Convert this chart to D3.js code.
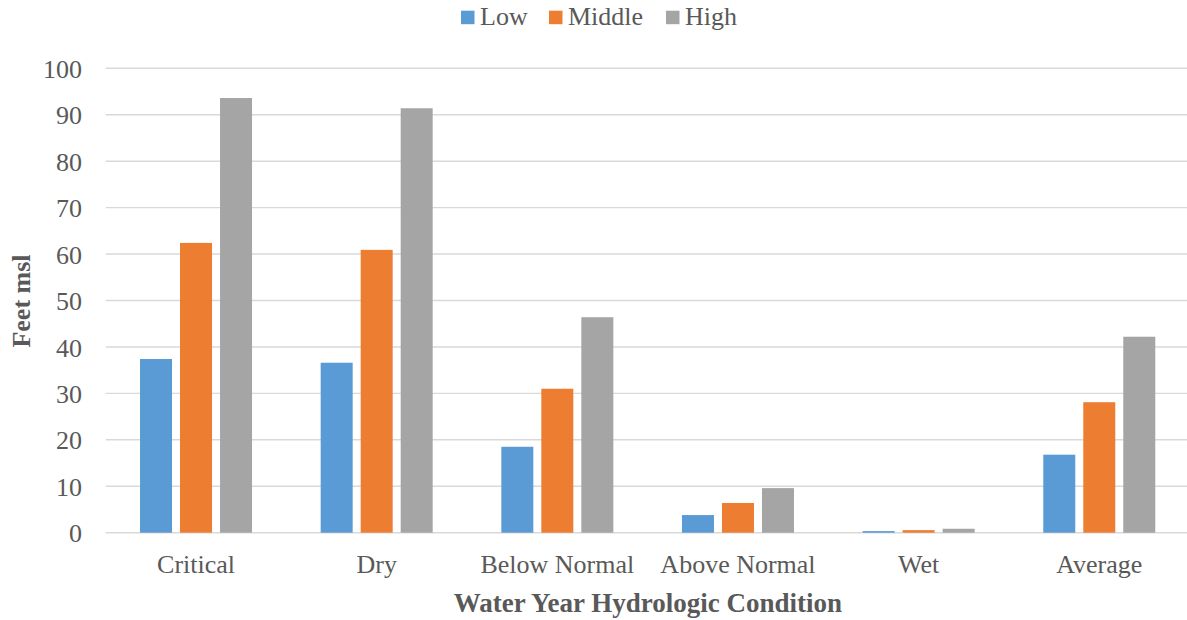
<!DOCTYPE html>
<html>
<head>
<meta charset="utf-8">
<script src="https://cdn.jsdelivr.net/npm/d3@7"></script>
<style>
  html, body { margin: 0; padding: 0; background: #fff; }
  svg { display: block; }
</style>
</head>
<body>
<svg id="chart" width="1187" height="620"></svg>
<script>
const categories = ["Critical", "Dry", "Below Normal", "Above Normal", "Wet", "Average"];
const seriesNames = ["Low", "Middle", "High"];
const lowValues = [37.4, 36.6, 18.5, 3.8, 0.35, 16.8];
const middleValues = [62.4, 60.9, 31.0, 6.4, 0.55, 28.1];
const highValues = [93.6, 91.4, 46.4, 9.6, 0.85, 42.2];
const seriesColors = ["#5B9BD5", "#ED7D31", "#A5A5A5"];
const yTicks = [0, 10, 20, 30, 40, 50, 60, 70, 80, 90, 100];

const seriesValues = [lowValues, middleValues, highValues];
const rows = categories.map((c, i) => ({
  category: c,
  values: seriesNames.map((s, j) => ({ series: s, value: seriesValues[j][i], color: seriesColors[j] }))
}));

const svg = d3.select("#chart");
const font = "'Liberation Serif', 'Times New Roman', serif";
const textColor = "#595959";

const x0 = d3.scaleBand().domain(categories).range([105.7, 1189.6]).paddingInner(0.38).paddingOuter(0.19);
const x1 = d3.scaleBand().domain(seriesNames).range([0, x0.bandwidth()]).paddingInner(0.2).paddingOuter(0);
const y = d3.scaleLinear().domain([0, 100]).range([532.7, 68.3]);

// gridlines
svg.append("g")
  .selectAll("line")
  .data(yTicks)
  .join("line")
  .attr("x1", 105.7)
  .attr("x2", 1187)
  .attr("y1", d => y(d))
  .attr("y2", d => y(d))
  .attr("stroke", "#d9d9d9")
  .attr("stroke-width", 1.4);

// y axis labels
const yAxis = d3.axisLeft(y).tickValues(yTicks).tickSize(0).tickPadding(0);
const yg = svg.append("g").attr("transform", "translate(82,0)").call(yAxis);
yg.select(".domain").remove();
yg.selectAll("text")
  .attr("font-family", font)
  .attr("font-size", 26)
  .attr("fill", textColor)
  .attr("dy", "0.35em");

// bars
const groups = svg.append("g")
  .selectAll("g")
  .data(rows)
  .join("g")
  .attr("transform", d => `translate(${x0(d.category)},0)`);

groups.selectAll("rect")
  .data(d => d.values)
  .join("rect")
  .attr("x", d => x1(d.series))
  .attr("width", x1.bandwidth())
  .attr("y", d => y(d.value))
  .attr("height", d => y(0) - y(d.value))
  .attr("fill", d => d.color);

// x axis labels
const xAxis = d3.axisBottom(x0).tickSize(0).tickPadding(0);
const xg = svg.append("g").attr("transform", "translate(0,573)").call(xAxis);
xg.select(".domain").remove();
xg.selectAll("text")
  .attr("font-family", font)
  .attr("font-size", 26)
  .attr("fill", textColor)
  .attr("dy", 0);

// axis titles
svg.append("text")
  .attr("x", 648)
  .attr("y", 612)
  .attr("text-anchor", "middle")
  .attr("font-family", font)
  .attr("font-size", 27)
  .attr("font-weight", "bold")
  .attr("fill", textColor)
  .text("Water Year Hydrologic Condition");

svg.append("text")
  .attr("transform", "translate(30,301) rotate(-90)")
  .attr("text-anchor", "middle")
  .attr("font-family", font)
  .attr("font-size", 26)
  .attr("font-weight", "bold")
  .attr("fill", textColor)
  .text("Feet msl");

// legend
const legendX = [461, 549, 666];
const legend = svg.append("g")
  .selectAll("g")
  .data(seriesNames)
  .join("g")
  .attr("transform", (d, i) => `translate(${legendX[i]},0)`);
legend.append("rect")
  .attr("x", 0).attr("y", 10.7)
  .attr("width", 13.5).attr("height", 13.5)
  .attr("fill", (d, i) => seriesColors[i]);
legend.append("text")
  .attr("x", 19)
  .attr("y", 25)
  .attr("font-family", font)
  .attr("font-size", 26)
  .attr("fill", textColor)
  .text(d => d);
</script>
</body>
</html>
